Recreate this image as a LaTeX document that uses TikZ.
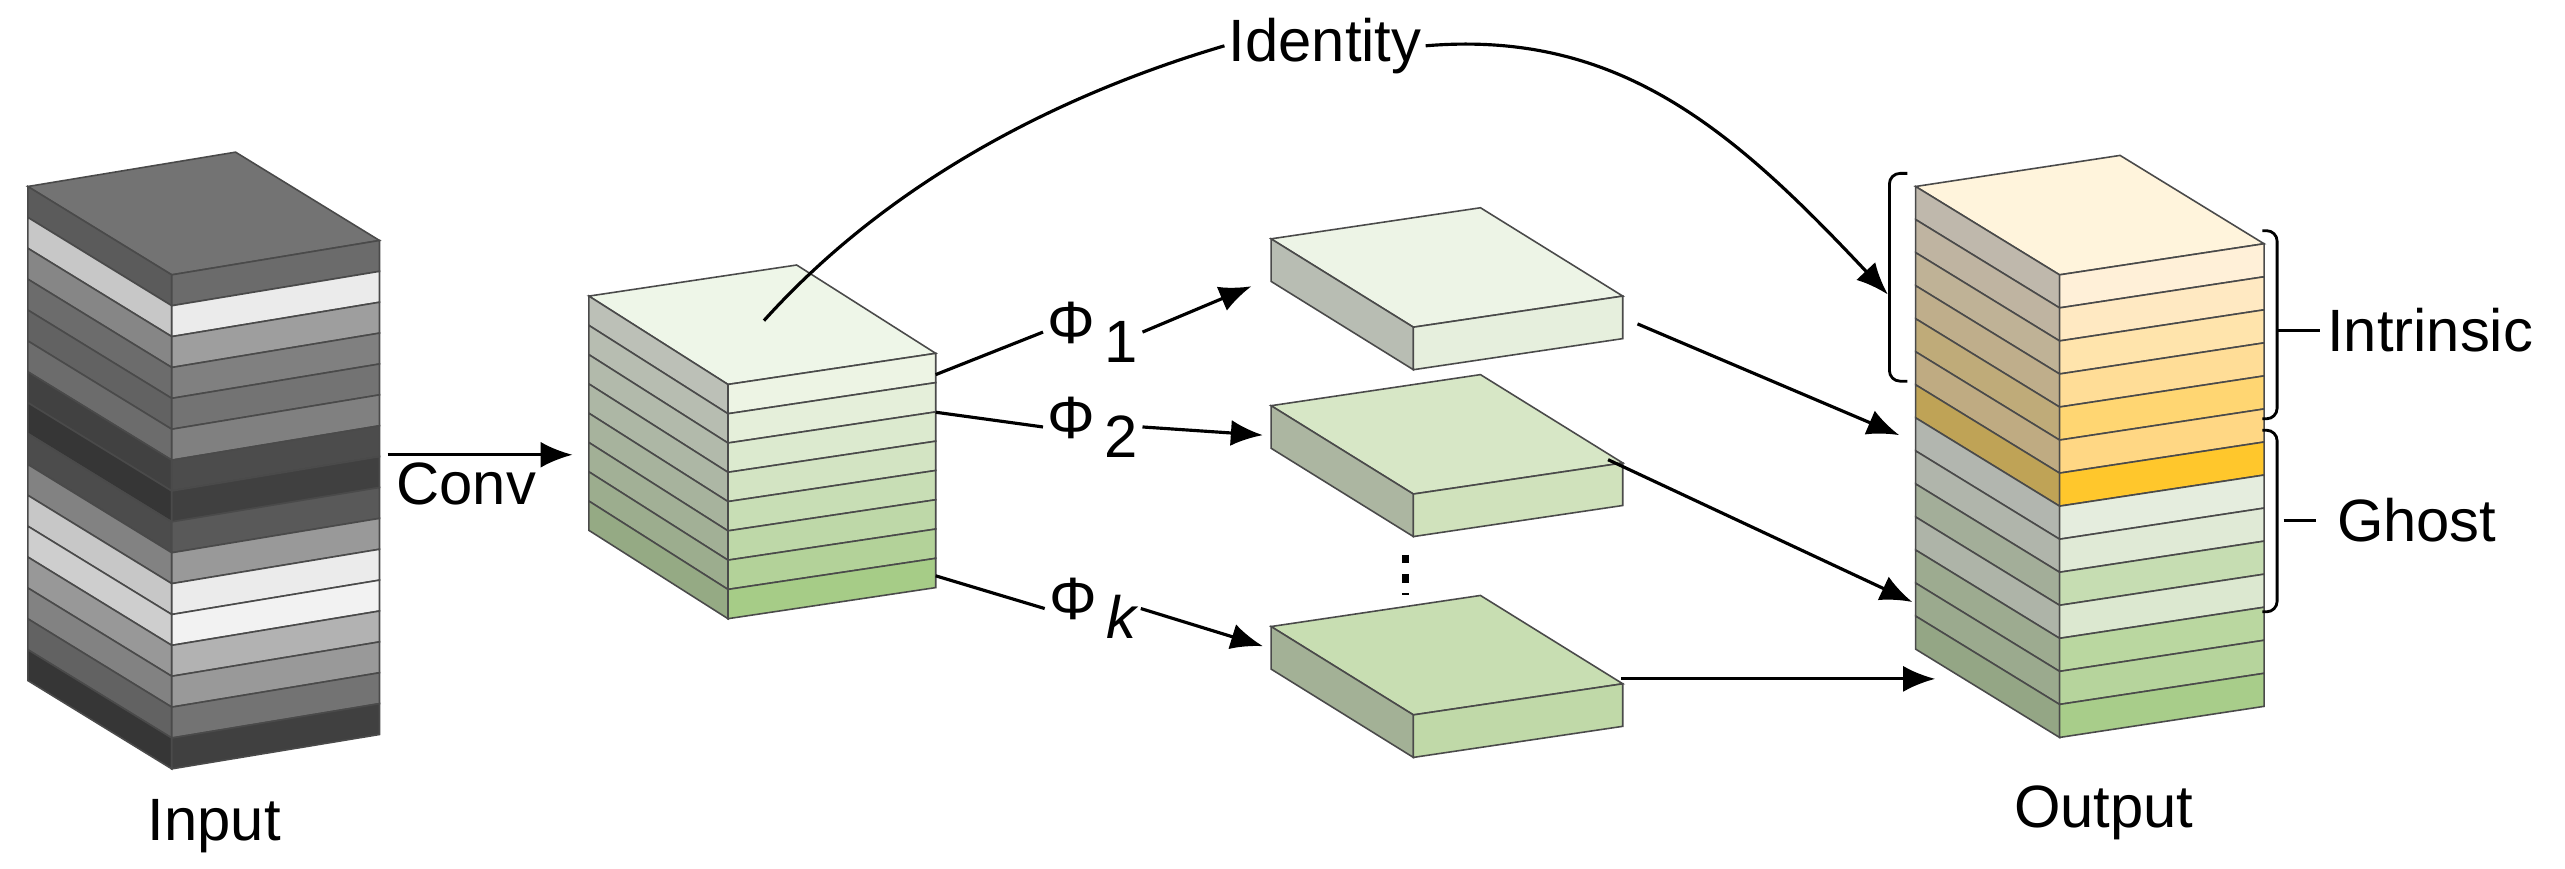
\documentclass[tikz,border=0pt]{standalone}
\usepackage{fontspec}
\setmainfont{Liberation Sans}
\usetikzlibrary{arrows.meta}
\definecolor{edge}{HTML}{4A4A4A}
\definecolor{gT}{HTML}{EEF6E8}
\definecolor{gA}{HTML}{EDF4E4}\definecolor{gB}{HTML}{E5EFDA}\definecolor{gC}{HTML}{DCEACF}\definecolor{gD}{HTML}{D3E4C3}
\definecolor{gE}{HTML}{C8DEB5}\definecolor{gF}{HTML}{BED8A8}\definecolor{gG}{HTML}{B3D299}\definecolor{gH}{HTML}{A6CC87}
\definecolor{sAt}{HTML}{EDF4E6}\definecolor{sAf}{HTML}{E6EFDD}
\definecolor{sBt}{HTML}{D7E7C6}\definecolor{sBf}{HTML}{D0E2BC}
\definecolor{sCt}{HTML}{C8DEB2}\definecolor{sCf}{HTML}{C0D9A8}
\definecolor{oT}{HTML}{FFF4DC}
\definecolor{yA}{HTML}{FFF0D8}\definecolor{yB}{HTML}{FFE9C2}\definecolor{yC}{HTML}{FFE4AC}\definecolor{yD}{HTML}{FFDD97}
\definecolor{yE}{HTML}{FFD672}\definecolor{yF}{HTML}{FFD784}\definecolor{yG}{HTML}{FFC72C}
\definecolor{hA}{HTML}{E5EDDE}\definecolor{hB}{HTML}{E0EAD6}\definecolor{hC}{HTML}{C6DDB2}\definecolor{hD}{HTML}{DCE8D0}
\definecolor{hE}{HTML}{BAD7A0}\definecolor{hF}{HTML}{B6D49C}\definecolor{hG}{HTML}{A8CD8A}
\newcommand\blk[9]{%
\begin{scope}[shift={(#1,#2)}]
 \filldraw[fill=#8, draw=edge] (0,0) -- (#3,#4) -- ++(#5,#6) -- ++(-#3,-#4) -- cycle;
 \foreach \cc [count=\i from 0] in {#9} {
   \colorlet{cur}{\cc}
   \pgfmathsetmacro\ta{\i*#7}\pgfmathsetmacro\tb{(\i+1)*#7}
   \filldraw[fill=\sidespec, draw=edge] (0,\ta) -- (#3,#4+\ta) -- (#3,#4+\tb) -- (0,\tb) -- cycle;
   \filldraw[fill=cur, draw=edge] (#3,#4+\ta) -- (#3+#5,#4+#6+\ta) -- (#3+#5,#4+#6+\tb) -- (#3,#4+\tb) -- cycle;
 }
\end{scope}}
\tikzset{
  lbl/.style={font=\fontsize{17}{20}\selectfont, inner sep=1pt},
  con/.style={line width=0.9pt},
  arr/.style={line width=0.9pt, -{Latex[length=3.2mm,width=2.6mm]}},
  brk/.style={line width=0.8pt, rounded corners=3pt}
}
\begin{document}
\begin{tikzpicture}[x=0.01636cm, y=-0.01636cm, line width=0.45pt]
\useasboundingbox (0,0) rectangle (1568,531);
% input
\def\sidespec{cur!85!black}
\blk{17}{114}{88}{54}{127}{-21}{18.875}{black!55}{black!58,black!8,black!38,black!50,black!55,black!50,black!70,black!75,black!65,black!40,black!8,black!5,black!30,black!40,black!55,black!75}
% green cube
\def\sidespec{cur!55!gray}
\blk{360}{181}{85}{54}{127}{-19}{17.9}{gT}{gA,gB,gC,gD,gE,gF,gG,gH}
% slabs
\blk{777}{146}{87}{54}{128}{-19}{26}{sAt}{sAf}
\blk{777}{248}{87}{54}{128}{-19}{26}{sBt}{sBf}
\blk{777}{383}{87}{54}{128}{-19}{26}{sCt}{sCf}
% output
\def\sidespec{cur!50!gray}
\blk{1171}{114}{88}{54}{125}{-19}{20.2}{oT}{yA,yB,yC,yD,yE,yF,yG,hA,hB,hC,hD,hE,hF,hG}
% coordinates
\coordinate (inR) at (237,278);
\coordinate (gcR) at (350,278);
\coordinate (gTop) at (467,196);
\coordinate (g1) at (572,229);
\coordinate (g2) at (572,252);
\coordinate (gk) at (572,352);
\coordinate (s1L) at (765,175);
\coordinate (s2L) at (772,266);
\coordinate (skL) at (772,395);
\coordinate (s1R) at (1001,198);
\coordinate (s2R) at (983,281);
\coordinate (skR) at (991,415);
\coordinate (o1) at (1161,266);
\coordinate (o2) at (1169,368);
\coordinate (ok) at (1183,415);
\coordinate (oId) at (1154,180);
% labels
\node[lbl] (input) at (131,505) {Input};
\node[lbl] (output) at (1286,497) {Output};
\node[lbl] (conv) at (285,296) {Conv};
\node[lbl] (ident) at (810,28) {Identity};
\node[lbl] (p1) at (668,203) {Φ\,\raisebox{-0.6ex}{1}};
\node[lbl] (p2) at (668,261) {Φ\,\raisebox{-0.6ex}{2}};
\node[lbl] (pk) at (668,372) {Φ\,\raisebox{-0.6ex}{\itshape k}};
\node[lbl, anchor=west] (intr) at (1420,202) {Intrinsic};
\node[lbl, anchor=west] (ghost) at (1426,318) {Ghost};
% connectors
\draw[arr] (inR) -- (gcR);
\draw[con] (g1) -- (p1.west);
\draw[arr] (p1.east) -- (s1L);
\draw[con] (g2) -- (p2.west);
\draw[arr] (p2.east) -- (s2L);
\draw[con] (gk) -- (pk.west);
\draw[arr] (pk.east) -- (skL);
\draw[arr] (s1R) -- (o1);
\draw[arr] (s2R) -- (o2);
\draw[arr] (skR) -- (ok);
\draw[con] (gTop) .. controls (540,115) and (640,60) .. (ident.west);
\draw[arr] (ident.east) .. controls (990,18) and (1060,80) .. (oId);
\draw[line width=2pt, dash pattern=on 2.5pt off 3pt] (859,339) -- (859,364);
% brackets
\draw[brk] (1166,106) -- (1155,106) -- (1155,233) -- (1166,233);
\draw[brk] (1383,141) -- (1392,141) -- (1392,256) -- (1383,256);
\draw[con] (1392,202) -- (1418,202);
\draw[brk] (1383,263) -- (1392,263) -- (1392,374) -- (1383,374);
\draw[con] (1396,318) -- (1416,318);
\end{tikzpicture}
\end{document}
